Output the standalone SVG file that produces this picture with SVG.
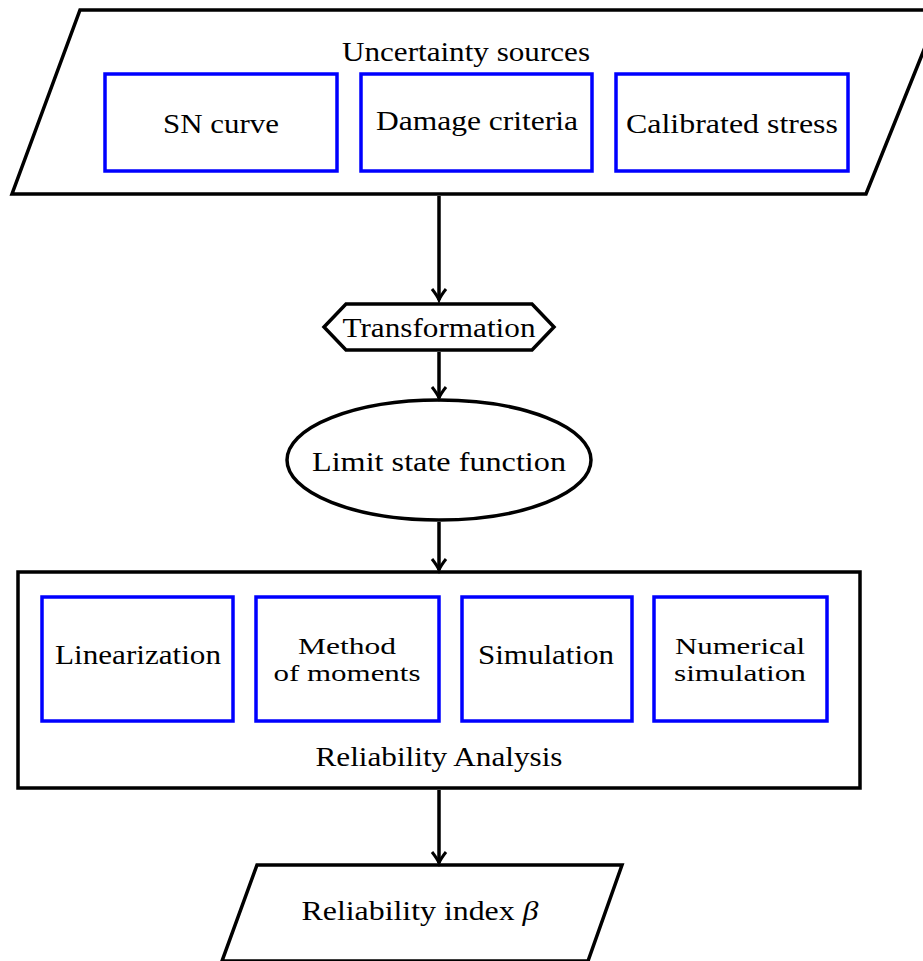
<svg xmlns="http://www.w3.org/2000/svg" width="923" height="961" viewBox="0 0 923 961">
<style>
.blk{fill:#fff;stroke:#000;stroke-width:3.5;stroke-linejoin:miter}
.blue{fill:#fff;stroke:#0000ff;stroke-width:3.5}
.t{font-family:"Liberation Serif","Times New Roman",serif;font-size:27px;fill:#000;text-anchor:middle}
.t2{font-size:24px}
.ti{font-style:italic}
.conn{stroke:#000;stroke-width:3.5;fill:none}
</style>
<defs>
<marker id="arr" markerUnits="userSpaceOnUse" viewBox="-14 -10 18 20" markerWidth="18" markerHeight="20" refX="0" refY="0" orient="auto">
<path d="M-11,-7 Q-4,-1.5 0,0 Q-4,1.5 -11,7" fill="none" stroke="#000" stroke-width="3"/>
</marker>
</defs>
<rect width="923" height="961" fill="#fff"/>
<g id="uncertainty">
<polygon class="blk" points="80,10 940,10 866,194 12,194"/>
<text class="t" x="466" y="61" textLength="248" lengthAdjust="spacingAndGlyphs">Uncertainty sources</text>
</g>
<g id="sn-curve">
<rect class="blue" x="105" y="74" width="232" height="97"/>
<text class="t" x="221" y="133" textLength="116" lengthAdjust="spacingAndGlyphs">SN curve</text>
</g>
<g id="damage-criteria">
<rect class="blue" x="361" y="74" width="231" height="97"/>
<text class="t" x="477" y="130" textLength="202" lengthAdjust="spacingAndGlyphs">Damage criteria</text>
</g>
<g id="calibrated-stress">
<rect class="blue" x="616" y="74" width="232" height="97"/>
<text class="t" x="732" y="133" textLength="212" lengthAdjust="spacingAndGlyphs">Calibrated stress</text>
</g>
<g id="transformation">
<polygon class="blk" points="324,327 346,304 532,304 554,327 532,350 346,350"/>
<text class="t" x="439" y="337" textLength="193" lengthAdjust="spacingAndGlyphs">Transformation</text>
</g>
<g id="limit-state">
<ellipse class="blk" cx="439" cy="460" rx="152" ry="60"/>
<text class="t" x="439" y="471" textLength="254" lengthAdjust="spacingAndGlyphs">Limit state function</text>
</g>
<g id="reliability-analysis">
<rect class="blk" x="18" y="572" width="842" height="216"/>
<text class="t" x="439" y="766" textLength="247" lengthAdjust="spacingAndGlyphs">Reliability Analysis</text>
</g>
<g id="linearization">
<rect class="blue" x="42" y="597" width="191" height="124"/>
<text class="t" x="138" y="664" textLength="166" lengthAdjust="spacingAndGlyphs">Linearization</text>
</g>
<g id="method-of-moments">
<rect class="blue" x="256" y="597" width="183" height="124"/>
<text class="t t2" x="347" y="654" textLength="98" lengthAdjust="spacingAndGlyphs">Method</text>
<text class="t t2" x="347" y="681" textLength="147" lengthAdjust="spacingAndGlyphs">of moments</text>
</g>
<g id="simulation">
<rect class="blue" x="462" y="597" width="170" height="124"/>
<text class="t" x="546" y="664" textLength="136" lengthAdjust="spacingAndGlyphs">Simulation</text>
</g>
<g id="numerical-simulation">
<rect class="blue" x="654" y="597" width="173" height="124"/>
<text class="t t2" x="740" y="654" textLength="130" lengthAdjust="spacingAndGlyphs">Numerical</text>
<text class="t t2" x="740" y="681" textLength="132" lengthAdjust="spacingAndGlyphs">simulation</text>
</g>
<g id="reliability-index">
<polygon class="blk" points="257,865 622,865 588,961 222,961"/>
<text class="t" x="420" y="920" textLength="237" lengthAdjust="spacingAndGlyphs">Reliability index <tspan class="ti">β</tspan></text>
</g>
<g id="connectors">
<line class="conn" x1="439" y1="196" x2="439" y2="300" marker-end="url(#arr)"/>
<line class="conn" x1="439" y1="352" x2="439" y2="398" marker-end="url(#arr)"/>
<line class="conn" x1="439" y1="522" x2="439" y2="570" marker-end="url(#arr)"/>
<line class="conn" x1="439" y1="790" x2="439" y2="863" marker-end="url(#arr)"/>
</g>
</svg>
